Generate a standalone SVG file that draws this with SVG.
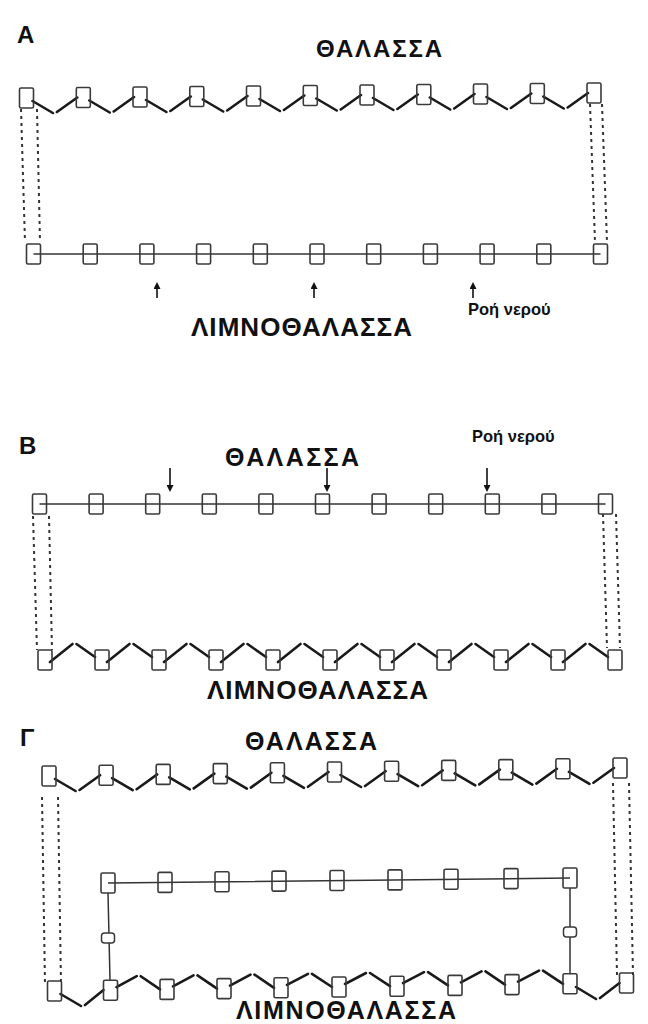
<svg xmlns="http://www.w3.org/2000/svg" width="648" height="1024" viewBox="0 0 648 1024">
<defs>
<style>
.b{fill:none;stroke:#3a3a3a;stroke-width:1.6}
.s{fill:#fff;stroke:#3a3a3a;stroke-width:1.5}
.z{fill:none;stroke:#1a1a1a;stroke-width:2.6;stroke-linecap:round}
.l{fill:none;stroke:#333;stroke-width:1.5}
.d{fill:none;stroke:#333;stroke-width:2;stroke-dasharray:3 4}
.a{fill:none;stroke:#111;stroke-width:1.6}
.t{font-family:"Liberation Sans",Arial,sans-serif;font-weight:bold;fill:#111}
</style>
<marker id="ah" markerWidth="7" markerHeight="7" refX="5" refY="3.5" orient="auto" markerUnits="userSpaceOnUse"><path d="M0,0 L7,3.5 L0,7 z" fill="#111"/></marker>
</defs>
<rect width="648" height="1024" fill="#fff"/>

<g id="labels">
<text class="t" x="17" y="43" font-size="24">A</text>
<text class="t" x="316" y="57" font-size="24" textLength="126">ΘΑΛΑΣΣΑ</text>
<text class="t" x="191" y="336" font-size="26" textLength="221">ΛΙΜΝΟΘΑΛΑΣΣΑ</text>
<text class="t" x="468" y="315" font-size="16.5">Ροή νερού</text>
<text class="t" x="19" y="454" font-size="24">B</text>
<text class="t" x="225" y="466" font-size="25" textLength="134">ΘΑΛΑΣΣΑ</text>
<text class="t" x="472" y="442" font-size="16.5">Ροή νερού</text>
<text class="t" x="207" y="699" font-size="26" textLength="221">ΛΙΜΝΟΘΑΛΑΣΣΑ</text>
<text class="t" x="20" y="746" font-size="24">Γ</text>
<text class="t" x="245" y="750" font-size="25" textLength="132">ΘΑΛΑΣΣΑ</text>
<text class="t" x="236" y="1019" font-size="25" textLength="220">ΛΙΜΝΟΘΑΛΑΣΣΑ</text>
</g>

<g id="connectors">
<!-- A top zigzag -->
<path class="z" d="M32.5,101L52.9,113M56.9,112L77.3,97.5M89.3,100.5L109.7,112.5M113.7,111.5L134,97M146,100L166.4,112M170.4,111L190.8,96.5M202.8,99.5L223.2,111.5M227.2,110.5L247.5,96M259.5,99L279.9,111M283.9,110L304.3,95.5M316.3,98.5L336.7,110.5M340.7,109.5L361,95M373,98L393.4,110M397.4,109L417.8,94.5M429.8,97.5L450.2,109.5M454.2,108.5L474.5,94M486.5,97L506.9,109M510.9,108L531.3,93.5M543.3,96.5L563.7,108.5M567.7,107.5L588,93"/>
<path class="d" d="M21,109L25,242M37,109L40,242M590,104L595,242M602,104L607,242"/>
<path class="l" d="M33.5,254H600.5"/>
<line class="a" marker-end="url(#ah)" x1="157" y1="298" x2="157" y2="284"/>
<line class="a" marker-end="url(#ah)" x1="314" y1="298" x2="314" y2="284"/>
<line class="a" marker-end="url(#ah)" x1="473" y1="298" x2="473" y2="284"/>
<!-- B -->
<path class="l" d="M39.5,504H605.5"/>
<line class="a" marker-end="url(#ah)" x1="170" y1="468" x2="170" y2="490"/>
<line class="a" marker-end="url(#ah)" x1="327" y1="468" x2="327" y2="490"/>
<line class="a" marker-end="url(#ah)" x1="487" y1="468" x2="487" y2="490"/>
<path class="d" d="M33,516L37,650M49,516L52,650M603,514L607,648M616,514L620,648"/>
<path class="z" d="M50,662L72.5,644M76.5,644L95,657M107,662L129.5,644M133.5,644L152,657M164,662L186.5,644M190.5,644L209,657M221,662L243.5,644M247.5,644L266,657M278,662L300.5,644M304.5,644L323,657M335,662L357.5,644M361.5,644L380,657M392,662L414.5,644M418.5,644L437,657M449,662L471.5,644M475.5,644L494,657M506,662L528.5,644M532.5,644L551,657M563,662L585.5,644M589.5,644L608,657"/>
<!-- Γ -->
<path class="z" d="M55,779L75.55,791M79.55,790L100.1,775.2M112.1,778.2L132.65,790.2M136.65,789.2L157.2,774.4M169.2,777.4L189.75,789.4M193.75,788.4L214.3,773.6M226.3,776.6L246.85,788.6M250.85,787.6L271.4,772.8M283.4,775.8L303.95,787.8M307.95,786.8L328.5,772M340.5,775L361.05,787M365.05,786L385.6,771.2M397.6,774.2L418.15,786.2M422.15,785.2L442.7,770.4M454.7,773.4L475.25,785.4M479.25,784.4L499.8,769.6M511.8,772.6L532.35,784.6M536.35,783.6L556.9,768.8M568.9,771.8L589.45,783.8M593.45,782.8L614,768"/>
<path class="d" d="M42,797L45,985M58,797L61,985M613,783L617,975M629,783L633,975"/>
<path class="l" d="M108,883L570,878M108,893L110,980M570,888L570,974"/>
<path class="z" d="M60.5,994L81,1006M85,1005L103.5,990M116.5,987.2L136.75,976.2M140.75,976.2L160,989.4M173,986.4L193.5,975.4M197.5,975.4L217,988.6M230,985.6L250.5,974.6M254.5,974.6L274,987.8M287,984.8L308,973.8M312,973.8L332,987M345,984L366,973M370,973L390,986.2M403,983.2L424,972.2M428,972.2L448,985.4M461,982.4L481.5,971.4M485.5,971.4L505,984.6M518,981.6L539,970.6M543,970.6L563,983.8M576,987L596,999M600,998L619.5,983"/>
</g>

<g id="A-sea-row">
<rect id="A-s0" class="b" x="19.5" y="88" width="14" height="20" rx="1.5"/>
<rect id="A-s1" class="b" x="76.3" y="87.5" width="14" height="20" rx="1.5"/>
<rect id="A-s2" class="b" x="133" y="87" width="14" height="20" rx="1.5"/>
<rect id="A-s3" class="b" x="189.8" y="86.5" width="14" height="20" rx="1.5"/>
<rect id="A-s4" class="b" x="246.5" y="86" width="14" height="20" rx="1.5"/>
<rect id="A-s5" class="b" x="303.3" y="85.5" width="14" height="20" rx="1.5"/>
<rect id="A-s6" class="b" x="360" y="85" width="14" height="20" rx="1.5"/>
<rect id="A-s7" class="b" x="416.8" y="84.5" width="14" height="20" rx="1.5"/>
<rect id="A-s8" class="b" x="473.5" y="84" width="14" height="20" rx="1.5"/>
<rect id="A-s9" class="b" x="530.3" y="83.5" width="14" height="20" rx="1.5"/>
<rect id="A-s10" class="b" x="587" y="83" width="14" height="20" rx="1.5"/>
</g>
<g id="A-lagoon-row">
<rect id="A-l0" class="b" x="26.5" y="244" width="14" height="20" rx="1.5"/>
<rect id="A-l1" class="b" x="83.2" y="244" width="14" height="20" rx="1.5"/>
<rect id="A-l2" class="b" x="139.9" y="244" width="14" height="20" rx="1.5"/>
<rect id="A-l3" class="b" x="196.6" y="244" width="14" height="20" rx="1.5"/>
<rect id="A-l4" class="b" x="253.3" y="244" width="14" height="20" rx="1.5"/>
<rect id="A-l5" class="b" x="310" y="244" width="14" height="20" rx="1.5"/>
<rect id="A-l6" class="b" x="366.7" y="244" width="14" height="20" rx="1.5"/>
<rect id="A-l7" class="b" x="423.4" y="244" width="14" height="20" rx="1.5"/>
<rect id="A-l8" class="b" x="480.1" y="244" width="14" height="20" rx="1.5"/>
<rect id="A-l9" class="b" x="536.8" y="244" width="14" height="20" rx="1.5"/>
<rect id="A-l10" class="b" x="593.5" y="244" width="14" height="20" rx="1.5"/>
</g>

<g id="B-sea-row">
<rect id="B-s0" class="b" x="32.5" y="494" width="14" height="20" rx="1.5"/>
<rect id="B-s1" class="b" x="89.1" y="494" width="14" height="20" rx="1.5"/>
<rect id="B-s2" class="b" x="145.7" y="494" width="14" height="20" rx="1.5"/>
<rect id="B-s3" class="b" x="202.3" y="494" width="14" height="20" rx="1.5"/>
<rect id="B-s4" class="b" x="258.9" y="494" width="14" height="20" rx="1.5"/>
<rect id="B-s5" class="b" x="315.5" y="494" width="14" height="20" rx="1.5"/>
<rect id="B-s6" class="b" x="372.1" y="494" width="14" height="20" rx="1.5"/>
<rect id="B-s7" class="b" x="428.7" y="494" width="14" height="20" rx="1.5"/>
<rect id="B-s8" class="b" x="485.3" y="494" width="14" height="20" rx="1.5"/>
<rect id="B-s9" class="b" x="541.9" y="494" width="14" height="20" rx="1.5"/>
<rect id="B-s10" class="b" x="598.5" y="494" width="14" height="20" rx="1.5"/>
</g>
<g id="B-lagoon-row">
<rect id="B-l0" class="b" x="38" y="650" width="14" height="20" rx="1.5"/>
<rect id="B-l1" class="b" x="95" y="650" width="14" height="20" rx="1.5"/>
<rect id="B-l2" class="b" x="152" y="650" width="14" height="20" rx="1.5"/>
<rect id="B-l3" class="b" x="209" y="650" width="14" height="20" rx="1.5"/>
<rect id="B-l4" class="b" x="266" y="650" width="14" height="20" rx="1.5"/>
<rect id="B-l5" class="b" x="323" y="650" width="14" height="20" rx="1.5"/>
<rect id="B-l6" class="b" x="380" y="650" width="14" height="20" rx="1.5"/>
<rect id="B-l7" class="b" x="437" y="650" width="14" height="20" rx="1.5"/>
<rect id="B-l8" class="b" x="494" y="650" width="14" height="20" rx="1.5"/>
<rect id="B-l9" class="b" x="551" y="650" width="14" height="20" rx="1.5"/>
<rect id="B-l10" class="b" x="608" y="650" width="14" height="20" rx="1.5"/>
</g>

<g id="G-sea-row">
<rect id="G-s0" class="b" x="42" y="766" width="14" height="20" rx="1.5"/>
<rect id="G-s1" class="b" x="99.1" y="765.2" width="14" height="20" rx="1.5"/>
<rect id="G-s2" class="b" x="156.2" y="764.4" width="14" height="20" rx="1.5"/>
<rect id="G-s3" class="b" x="213.3" y="763.6" width="14" height="20" rx="1.5"/>
<rect id="G-s4" class="b" x="270.4" y="762.8" width="14" height="20" rx="1.5"/>
<rect id="G-s5" class="b" x="327.5" y="762" width="14" height="20" rx="1.5"/>
<rect id="G-s6" class="b" x="384.6" y="761.2" width="14" height="20" rx="1.5"/>
<rect id="G-s7" class="b" x="441.7" y="760.4" width="14" height="20" rx="1.5"/>
<rect id="G-s8" class="b" x="498.8" y="759.6" width="14" height="20" rx="1.5"/>
<rect id="G-s9" class="b" x="555.9" y="758.8" width="14" height="20" rx="1.5"/>
<rect id="G-s10" class="b" x="613" y="758" width="14" height="20" rx="1.5"/>
</g>
<g id="G-inner-row">
<rect id="G-i0" class="b" x="101" y="873" width="14" height="20" rx="1.5"/>
<rect id="G-i1" class="b" x="158" y="872.4" width="14" height="20" rx="1.5"/>
<rect id="G-i2" class="b" x="215" y="871.8" width="14" height="20" rx="1.5"/>
<rect id="G-i3" class="b" x="272" y="871.1" width="14" height="20" rx="1.5"/>
<rect id="G-i4" class="b" x="330" y="870.5" width="14" height="20" rx="1.5"/>
<rect id="G-i5" class="b" x="388" y="869.9" width="14" height="20" rx="1.5"/>
<rect id="G-i6" class="b" x="444" y="869.3" width="14" height="20" rx="1.5"/>
<rect id="G-i7" class="b" x="504" y="868.6" width="14" height="20" rx="1.5"/>
<rect id="G-i8" class="b" x="563" y="868" width="14" height="20" rx="1.5"/>
</g>
<g id="G-side-left"><rect class="s" x="101.5" y="933" width="13" height="10" rx="3"/></g>
<g id="G-side-right"><rect class="s" x="563.5" y="927" width="13" height="10" rx="3"/></g>
<g id="G-lagoon-row">
<rect id="G-l0" class="b" x="47.5" y="981" width="14" height="20" rx="1.5"/>
<rect id="G-l1" class="b" x="103.5" y="980.2" width="14" height="20" rx="1.5"/>
<rect id="G-l2" class="b" x="160" y="979.4" width="14" height="20" rx="1.5"/>
<rect id="G-l3" class="b" x="217" y="978.6" width="14" height="20" rx="1.5"/>
<rect id="G-l4" class="b" x="274" y="977.8" width="14" height="20" rx="1.5"/>
<rect id="G-l5" class="b" x="332" y="977" width="14" height="20" rx="1.5"/>
<rect id="G-l6" class="b" x="390" y="976.2" width="14" height="20" rx="1.5"/>
<rect id="G-l7" class="b" x="448" y="975.4" width="14" height="20" rx="1.5"/>
<rect id="G-l8" class="b" x="505" y="974.6" width="14" height="20" rx="1.5"/>
<rect id="G-l9" class="b" x="563" y="973.8" width="14" height="20" rx="1.5"/>
<rect id="G-l10" class="b" x="619.5" y="973" width="14" height="20" rx="1.5"/>
</g>
</svg>
